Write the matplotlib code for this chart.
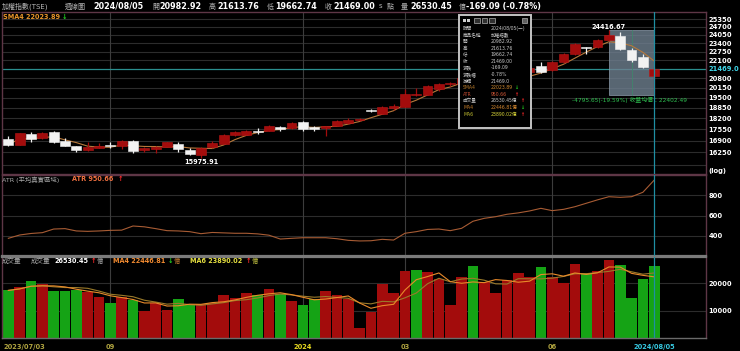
import matplotlib
matplotlib.use('Agg')
import matplotlib.pyplot as plt
import numpy as np
import pandas as pd
from matplotlib.patches import Rectangle
from matplotlib.ticker import NullLocator
import matplotlib.transforms as mtransforms

plt.rcParams['font.family'] = ['DejaVu Sans', 'Noto Sans CJK TC']

# ---------------- data (weekly TAIEX, 2023/07/03 .. 2024/08/05) ----------------
opens = [16995, 16660, 17296, 17052, 17377, 16900, 16589, 16385, 16495, 16661,
         16622, 16900, 16385, 16440, 16567, 16717, 16401, 16113, 16533, 16717,
         17240, 17250, 17470, 17470, 17668, 17628, 17970, 17668, 17608, 17762,
         17930, 18088, 18738, 18495, 18835, 18920, 19680, 19690, 20080, 20420,
         20430, 20750, 19600, 20150, 20380, 20750, 21270, 21700, 21412, 21990,
         22563, 23100, 23100, 23670, 23981, 22903, 22360, 20982.92]
highs = [17148, 17360, 17413, 17380, 17451, 17035, 16605, 16844, 16772, 16844,
         16940, 16956, 16567, 16622, 16844, 16811, 16511, 16550, 16866, 17280,
         17470, 17510, 17613, 17800, 17762, 17970, 18066, 17762, 17745, 18108,
         18200, 18210, 18800, 18990, 19100, 20055, 20130, 20360, 20480, 20530,
         20880, 20800, 20200, 20420, 20780, 21300, 21600, 21990, 22050, 22650,
         23400, 23130, 23760, 24416.67, 24255, 22996, 22563, 21613.76]
lows = [16622, 16640, 16844, 17000, 16772, 16589, 16295, 16333, 16467, 16511,
        16440, 16220, 16262, 16204, 16550, 16295, 16113, 15975.91, 16510, 16700,
        17183, 17200, 17263, 17440, 17470, 17600, 17470, 17470, 17148, 17740,
        17880, 18060, 18600, 18480, 18750, 18900, 19650, 19660, 19960, 20260,
        20400, 19380, 19550, 20000, 20300, 20700, 21150, 21150, 21300, 21900,
        22500, 22570, 23050, 23600, 22900, 21950, 21550, 19662.74]
closes = [16678, 17337, 16995, 17320, 16844, 16622, 16385, 16533, 16622, 16589,
          16900, 16347, 16478, 16567, 16811, 16440, 16167, 16495, 16755, 17222,
          17377, 17451, 17413, 17727, 17570, 17930, 17600, 17560, 17727, 18030,
          18127, 18190, 18640, 18880, 19000, 19780, 19720, 20250, 20415, 20480,
          20800, 19530, 20120, 20330, 20710, 21260, 21510, 21228, 21948, 22560,
          23300, 23032, 23660, 24050, 22942, 22140, 21638.09, 21469.00]
volumes = [17436, 18535, 20879, 19634, 17326, 17070, 17436, 16850, 14872, 12674,
           14872, 14029, 9744, 12821, 10256, 14396, 12088, 12564, 12821, 15604,
           14762, 16337, 15861, 17802, 16227, 13663, 11941, 14139, 17326, 15861,
           14286, 3773, 9634, 19634, 16337, 24652, 24762, 24286, 21612, 11941,
           22344, 26227, 20623, 16337, 21099, 23663, 22198, 26007, 22198, 20147,
           26960, 23810, 24652, 28681, 26740, 14652, 21722, 26530.45]
vol_up = [0, 1, 0, 1, 0, 0, 0, 1, 1, 0, 1, 0, 1, 1, 1, 0, 0, 1, 1, 1,
          1, 1, 0, 1, 0, 1, 0, 0, 1, 1, 1, 1, 1, 1, 1, 1, 0, 1, 1, 1,
          1, 0, 1, 1, 1, 1, 1, 0, 1, 1, 1, 0, 1, 1, 0, 0, 0, 0]
atr = [374, 407, 422, 430, 466, 470, 447, 443, 447, 453,
       455, 496, 488, 470, 450, 447, 440, 420, 432, 428,
       424, 424, 418, 405, 367, 374, 380, 380, 380, 370,
       354, 348, 350, 364, 357, 424, 440, 462, 466, 450,
       473, 543, 572, 588, 612, 626, 645, 671, 648, 661,
       687, 721, 755, 786, 780, 786, 830, 950.66]

month_idx = [9, 26, 35, 48]
month_labels = ['09', '2024', '03', '06']
price_ticks = [16250, 16900, 17550, 18200, 18850, 19500, 20150, 20800,
               22100, 22750, 23400, 24050, 24700, 25350]
price_grid_extra = [15600]
atr_ticks = [400, 600, 800]
vol_ticks = [10000, 20000]
cursor_price = 21469.0

# ---------------- figure ----------------
W, H = 740, 351
fig = plt.figure(figsize=(7.4, 3.51), dpi=100, facecolor='black')
pix = mtransforms.Affine2D().scale(1 / W, -1 / H).translate(0, 1) + fig.transFigure


def rect(x0, y0, x1, y1):
    return [x0 / W, 1 - y1 / H, (x1 - x0) / W, (y1 - y0) / H]


def ft(x, y, s, color='white', size=5.8, weight='normal', ha='left', z=3, **kw):
    return fig.text(x, y, s, color=color, fontsize=size, fontweight=weight,
                    ha=ha, va='center', transform=pix, zorder=z, **kw)


ax_main = fig.add_axes(rect(2, 12, 706, 174))
ax_atr = fig.add_axes(rect(2, 175, 706, 256))
ax_vol = fig.add_axes(rect(2, 257, 706, 338))

n = len(closes)
x = np.arange(n)
XL = (-0.56, 61.57)
RED = '#a30c0c'
REDE = '#b81616'
WHITE = '#f2f2f2'
GREEN = '#15a315'
GRID = '#2c2c2c'
VGRID = '#3c3c3c'
CYAN_LINE = '#1f8fa3'
BORDER = '#5e3646'

for ax in (ax_main, ax_atr, ax_vol):
    ax.set_facecolor('black')
    ax.set_xlim(*XL)
    ax.set_xticks([])
    for sp in ax.spines.values():
        sp.set_color(BORDER)
        sp.set_linewidth(1.0)
    for m in month_idx:
        ax.axvline(m, color=VGRID, lw=0.8, zorder=0.5)
    ax.axvline(n - 1, color=CYAN_LINE, lw=0.9, zorder=4)
    ax.yaxis.tick_right()
    ax.tick_params(axis='y', length=0, pad=1.6, labelsize=4.9, labelcolor='white')

ax_atr.spines['bottom'].set_color('#7a7a7a')
ax_atr.spines['bottom'].set_linewidth(1.6)
ax_vol.spines['top'].set_color('#7a7a7a')
ax_vol.spines['top'].set_linewidth(1.6)
ax_vol.spines['bottom'].set_color('#6a6a6a')

# ---------------- main candles ----------------
ax_main.set_yscale('log')
ax_main.set_ylim(15123, 25963)
ax_main.yaxis.set_minor_locator(NullLocator())
for p in price_ticks + price_grid_extra:
    ax_main.axhline(p, color=GRID, lw=0.8, zorder=0.4)
ax_main.axhline(cursor_price, color='#2a8f8f', lw=0.9, zorder=0.6)
ax_main.set_yticks(price_ticks)
ax_main.set_yticklabels([str(p) for p in price_ticks])
for lbl in ax_main.get_yticklabels():
    lbl.set_fontweight('bold')

o = np.array(opens, dtype=float)
c = np.array(closes, dtype=float)
hi = np.array(highs, dtype=float)
lo = np.array(lows, dtype=float)
up = c >= o
cols = np.where(up, RED, WHITE)
ax_main.vlines(x, lo, hi, colors=cols, lw=0.9, zorder=3)
body_bot = np.minimum(o, c)
body_h = np.maximum(np.abs(c - o), body_bot * 0.0012)
ax_main.bar(x, body_h, bottom=body_bot, width=0.86, color=cols,
            edgecolor=np.where(up, REDE, WHITE), linewidth=0.4, zorder=3)

sma4 = pd.Series(c).rolling(4, min_periods=1).mean()
ax_main.plot(x, sma4, color='#b7783a', lw=0.8, zorder=2.5)

# measurement box from the peak week to the cursor week
ipk = int(np.argmax(hi))
ax_main.add_patch(Rectangle((ipk, lo[-1]), (n - 1) - ipk, hi[ipk] - lo[-1],
                            facecolor='#6f8090', edgecolor='#8fa0b0', lw=0.6,
                            alpha=0.8, zorder=1.5))
ax_main.plot([(ipk + n - 1) / 2] * 2, [lo[-1], hi[ipk]], color='#3c8a6a',
             lw=0.5, zorder=1.6)

imin = int(np.argmin(lo))
ax_main.annotate(f'{lo[imin]:.2f}', xy=(imin, lo[imin]), xytext=(0, -1.2),
                 textcoords='offset points', ha='center', va='top',
                 color='white', fontsize=4.7, fontweight='bold', zorder=5)
ax_main.annotate(f'{hi[ipk]:.2f}', xy=(ipk, hi[ipk]), xytext=(0, 0.6),
                 textcoords='offset points', ha='center', va='bottom',
                 color='white', fontsize=4.7, fontweight='bold', zorder=5)

blend = mtransforms.blended_transform_factory(ax_main.transAxes, ax_main.transData)
ax_main.text(1.003, cursor_price, f'{cursor_price:.1f}', transform=blend,
             color='#3fd6e8', fontsize=4.9, fontweight='bold', va='center',
             ha='left', clip_on=False)

# ---------------- ATR ----------------
ax_atr.set_ylim(199, 1001)
for v in atr_ticks:
    ax_atr.axhline(v, color=GRID, lw=0.8, zorder=0.4)
ax_atr.set_yticks(atr_ticks)
ax_atr.set_yticklabels([str(v) for v in atr_ticks])
for lbl in ax_atr.get_yticklabels():
    lbl.set_fontweight('bold')
ax_atr.plot(x, atr, color='#a85c34', lw=0.8, zorder=3)

# ---------------- volume ----------------
ax_vol.set_ylim(0, 29670)
for v in vol_ticks:
    ax_vol.axhline(v, color=GRID, lw=0.8, zorder=0.4)
ax_vol.set_yticks(vol_ticks)
ax_vol.set_yticklabels([str(v) for v in vol_ticks])
for lbl in ax_vol.get_yticklabels():
    lbl.set_fontweight('bold')
vcols = [RED if u else GREEN for u in vol_up]
ax_vol.bar(x, volumes, width=0.95, color=vcols, zorder=2)
vs = pd.Series(volumes, dtype=float)
ax_vol.plot(x, vs.rolling(6, min_periods=1).mean(), color='#9a7a2a', lw=0.8, zorder=3)
ax_vol.plot(x, vs.rolling(4, min_periods=1).mean(), color='#e88a2a', lw=0.8, zorder=3)

# ---------------- header ----------------
G = '#b4b4b4'
ft(2, 6.3, '加權指數(TSE)', G, 5.0)
ft(65, 6.3, '週線圖', G, 5.0)
ft(93, 6.3, '2024/08/05', 'white', 5.8, 'bold')
ft(152, 6.3, '開', G, 5.0)
ft(159.5, 6.3, '20982.92', 'white', 5.8, 'bold')
ft(209, 6.3, '高', G, 5.0)
ft(217, 6.3, '21613.76', 'white', 5.8, 'bold')
ft(266.5, 6.3, '低', G, 5.0)
ft(275, 6.3, '19662.74', 'white', 5.8, 'bold')
ft(325, 6.3, '收', G, 5.0)
ft(333, 6.3, '21469.00', 'white', 5.8, 'bold')
ft(379, 6.3, 's', G, 5.0)
ft(386.5, 6.3, '點', G, 5.0)
ft(400.5, 6.3, '量', G, 5.0)
ft(410, 6.3, '26530.45', 'white', 5.8, 'bold')
ft(459, 6.3, '億', G, 5.0)
ft(466.5, 6.3, '-169.09 (-0.78%)', 'white', 5.8, 'bold')

ft(3, 17.3, 'SMA4 22023.89', '#e8952a', 4.7, 'bold')
ft(61.5, 17.3, '↓', '#22d022', 4.7, 'bold')
ft(708, 170.7, '(log)', 'white', 4.9, 'bold')

ft(2, 179.3, 'ATR (平均真實區域)', '#a8a8a8', 4.6)
ft(72.5, 179.3, 'ATR 950.66', '#f07040', 4.7, 'bold')
ft(117.5, 179.3, '↑', '#ff2a2a', 4.7, 'bold')

ft(2, 261, '成交量', '#a8a8a8', 4.7)
ft(31, 261, '成交量', '#a8a8a8', 4.7)
ft(54, 261, '26530.45', 'white', 4.7, 'bold')
ft(90.5, 261, '↑', '#ff2a2a', 4.7, 'bold')
ft(96.5, 261, '億', '#a8a8a8', 4.5)
ft(113, 261, 'MA4 22446.81', '#f08a30', 4.7, 'bold')
ft(168, 261, '↓', '#22d022', 4.7, 'bold')
ft(174, 261, '億', '#c07a30', 4.5)
ft(190.5, 261, 'MA6 23890.02', '#e6e040', 4.7, 'bold')
ft(245.5, 261, '↑', '#ff2a2a', 4.7, 'bold')
ft(252, 261, '億', '#c0c040', 4.5)

# x axis labels
ft(3, 347, '2023/07/03', '#b0a440', 4.8, 'bold')
xpix = lambda i: 2 + (i - XL[0]) / (XL[1] - XL[0]) * 704
for m, lab in zip(month_idx, month_labels):
    ft(xpix(m), 347, lab, '#e6d820' if lab == '2024' else '#b0a440', 4.8, 'bold', ha='center')
ft(xpix(n - 1), 347, '2024/08/05', '#36c8e0', 4.8, 'bold', ha='center')

# measure text
ft(572, 100, '-4795.65(-19.59%) 收盤均價：22402.49', '#2ec050', 4.2)

# ---------------- tooltip window ----------------
fig.add_artist(Rectangle((459, 15), 72, 113, transform=pix, facecolor='black',
                         edgecolor='#c4c4c4', lw=1.4, zorder=6))
fig.add_artist(Rectangle((463, 18.5), 3, 3.5, transform=pix, facecolor='#d0d0d0',
                         edgecolor='none', zorder=7))
fig.add_artist(Rectangle((467, 18.5), 3, 3.5, transform=pix, facecolor='#d0d0d0',
                         edgecolor='none', zorder=7))
for ix in (474, 481.5, 489):
    fig.add_artist(Rectangle((ix, 17.5), 5.5, 5.5, transform=pix, facecolor='#303030',
                             edgecolor='#b0b0b0', lw=0.5, zorder=7))
fig.add_artist(Rectangle((521.5, 17.5), 5, 5, transform=pix, facecolor='#606060',
                         edgecolor='#b0b0b0', lw=0.5, zorder=7))

tip_rows = [('時間', '2024/08/05(一)', '#c8c8c8', '#c8c8c8', None),
            ('商品名稱', '加權指數', '#c8c8c8', '#c8c8c8', None),
            ('開', '20982.92', '#c8c8c8', '#c8c8c8', None),
            ('高', '21613.76', '#c8c8c8', '#c8c8c8', None),
            ('低', '19662.74', '#c8c8c8', '#c8c8c8', None),
            ('收', '21469.00', '#c8c8c8', '#c8c8c8', None),
            ('漲跌', '-169.09', '#c8c8c8', '#c8c8c8', None),
            ('漲跌幅', '-0.78%', '#c8c8c8', '#c8c8c8', None),
            ('游標', '21469.0', '#c8c8c8', '#c8c8c8', None),
            ('SMA4', '22023.89', '#b87a2a', '#d08a30', ('↓', '#22d022')),
            ('ATR', '950.66', '#c04a30', '#d85a38', ('↑', '#ff2a2a')),
            ('成交量', '26530.45億', '#c8c8c8', '#c8c8c8', ('↑', '#ff2a2a')),
            ('MA4', '22446.81億', '#c07a28', '#d88a30', ('↓', '#22d022')),
            ('MA6', '23890.02億', '#c0bc30', '#d8d438', ('↑', '#ff2a2a'))]
for k, (lab, val, lc, vc, arr) in enumerate(tip_rows):
    yy = 28.3 + 6.6 * k
    ft(463, yy, lab, lc, 3.3, z=8)
    t = ft(490.5, yy, val, vc, 3.3, z=8)
    if arr:
        ax_x = 520 if '億' in val else 514.5
        ft(ax_x, yy, arr[0], arr[1], 3.5, 'bold', z=8)

fig.savefig('out.png', dpi=100, facecolor='black')
